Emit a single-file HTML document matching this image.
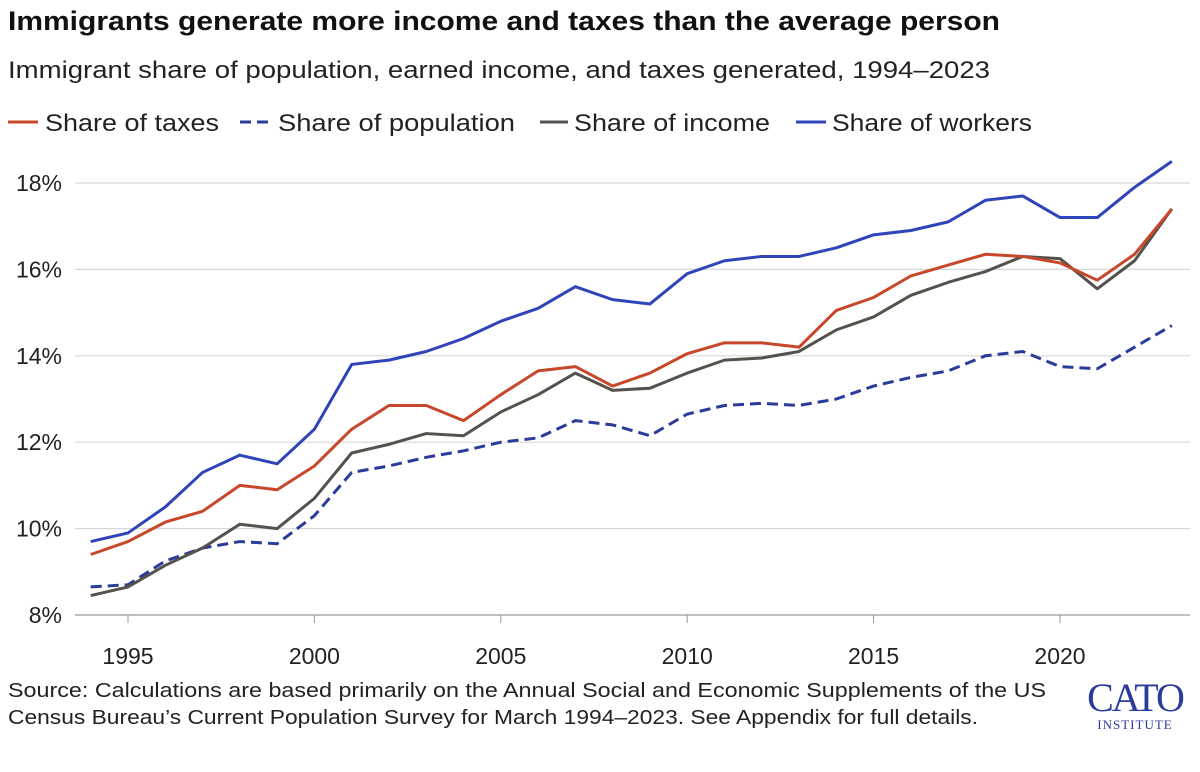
<!DOCTYPE html>
<html><head><meta charset="utf-8">
<style>
body{margin:0;background:#fff;width:1200px;height:767px;overflow:hidden;font-family:"Liberation Sans",sans-serif;}
</style></head>
<body>
<svg id="chart" width="1200" height="767" xmlns="http://www.w3.org/2000/svg">
<text x="8" y="30" font-size="27" font-weight="bold" fill="#111" textLength="992" lengthAdjust="spacingAndGlyphs">Immigrants generate more income and taxes than the average person</text>
<text x="8" y="78" font-size="24" fill="#222" textLength="982" lengthAdjust="spacingAndGlyphs">Immigrant share of population, earned income, and taxes generated, 1994–2023</text>
<g font-size="24" fill="#222">
<line x1="8" y1="122" x2="38" y2="122" stroke="#c8472b" stroke-width="3"/>
<text x="45" y="131" textLength="174" lengthAdjust="spacingAndGlyphs">Share of taxes</text>
<line x1="240" y1="122" x2="270" y2="122" stroke="#2b3b9a" stroke-width="3" stroke-dasharray="11,6"/>
<text x="278" y="131" textLength="237" lengthAdjust="spacingAndGlyphs">Share of population</text>
<line x1="540" y1="122" x2="568" y2="122" stroke="#55524d" stroke-width="3"/>
<text x="574" y="131" textLength="196" lengthAdjust="spacingAndGlyphs">Share of income</text>
<line x1="796" y1="122" x2="826" y2="122" stroke="#2f44b8" stroke-width="3"/>
<text x="832" y="131" textLength="200" lengthAdjust="spacingAndGlyphs">Share of workers</text>
</g>
<g id="grid"></g>
<g id="series"></g>
<text x="8" y="697" font-size="20" fill="#222" textLength="1038" lengthAdjust="spacingAndGlyphs">Source: Calculations are based primarily on the Annual Social and Economic Supplements of the US</text>
<text x="8" y="724" font-size="20" fill="#222" textLength="970" lengthAdjust="spacingAndGlyphs">Census Bureau’s Current Population Survey for March 1994–2023. See Appendix for full details.</text>
<g fill="#2b3b9a" font-family="Liberation Serif, serif">
<text x="1135" y="711" font-size="40" text-anchor="middle" letter-spacing="-2">CATO</text>
<text x="1135" y="729" font-size="13" text-anchor="middle" letter-spacing="1">INSTITUTE</text>
</g>
</svg>
<script>
const years=[];for(let y=1994;y<=2023;y++)years.push(y);
const yTicks=[8,10,12,14,16,18];
const xTicks=[1995,2000,2005,2010,2015,2020];
const workers=[9.7,9.9,10.5,11.3,11.7,11.5,12.3,13.8,13.9,14.1,14.4,14.8,15.1,15.6,15.3,15.2,15.9,16.2,16.3,16.3,16.5,16.8,16.9,17.1,17.6,17.7,17.2,17.2,17.9,18.5];
const taxes=[9.4,9.7,10.15,10.4,11.0,10.9,11.45,12.3,12.85,12.85,12.5,13.1,13.65,13.75,13.3,13.6,14.05,14.3,14.3,14.2,15.05,15.35,15.85,16.1,16.35,16.3,16.15,15.75,16.35,17.4];
const income=[8.45,8.65,9.15,9.55,10.1,10.0,10.7,11.75,11.95,12.2,12.15,12.7,13.1,13.6,13.2,13.25,13.6,13.9,13.95,14.1,14.6,14.9,15.4,15.7,15.95,16.3,16.25,15.55,16.2,17.4];
const population=[8.65,8.7,9.25,9.55,9.7,9.65,10.3,11.3,11.45,11.65,11.8,12.0,12.1,12.5,12.4,12.15,12.65,12.85,12.9,12.85,13.0,13.3,13.5,13.65,14.0,14.1,13.75,13.7,14.2,14.7];
const NS="http://www.w3.org/2000/svg";
const xs=y=>128+(y-1995)*37.28;
const ys=v=>615-(v-8)*43.2;
const grid=document.getElementById('grid');
yTicks.forEach(t=>{
 const l=document.createElementNS(NS,'line');
 l.setAttribute('x1',75);l.setAttribute('x2',1190);l.setAttribute('y1',ys(t));l.setAttribute('y2',ys(t));
 l.setAttribute('stroke',t===8?'#999':'#d8d8d8');l.setAttribute('stroke-width',1.2);
 
 
 grid.appendChild(l);
 const tx=document.createElementNS(NS,'text');
 tx.setAttribute('x',62);tx.setAttribute('y',ys(t)+8);tx.setAttribute('text-anchor','end');
 tx.setAttribute('font-size',23);tx.setAttribute('fill','#222');tx.textContent=t+'%';
 
 
 grid.appendChild(tx);
});
xTicks.forEach(t=>{
 const l=document.createElementNS(NS,'line');
 l.setAttribute('x1',xs(t));l.setAttribute('x2',xs(t));l.setAttribute('y1',615);l.setAttribute('y2',623);
 l.setAttribute('stroke','#999');
 
 
 grid.appendChild(l);
 const tx=document.createElementNS(NS,'text');
 tx.setAttribute('x',xs(t));tx.setAttribute('y',664);tx.setAttribute('text-anchor','middle');
 tx.setAttribute('font-size',23);tx.setAttribute('fill','#222');tx.textContent=t;
 
 
 grid.appendChild(tx);
});
const sg=document.getElementById('series');
function line(data,color,dash,name){
 const p=document.createElementNS(NS,'polyline');
 p.setAttribute('points',data.map((v,i)=>xs(years[i])+','+ys(v)).join(' '));
 p.setAttribute('fill','none');p.setAttribute('stroke',color);p.setAttribute('stroke-width',3);
 p.setAttribute('stroke-linejoin','round');
 if(dash)p.setAttribute('stroke-dasharray',dash);
 
 
 sg.appendChild(p);
}
line(population,'#2b3b9a','11,6','population-line');
line(income,'#55524d',null,'income-line');
line(taxes,'#c8472b',null,'taxes-line');
line(workers,'#2f44b8',null,'workers-line');
</script>
</body></html>
